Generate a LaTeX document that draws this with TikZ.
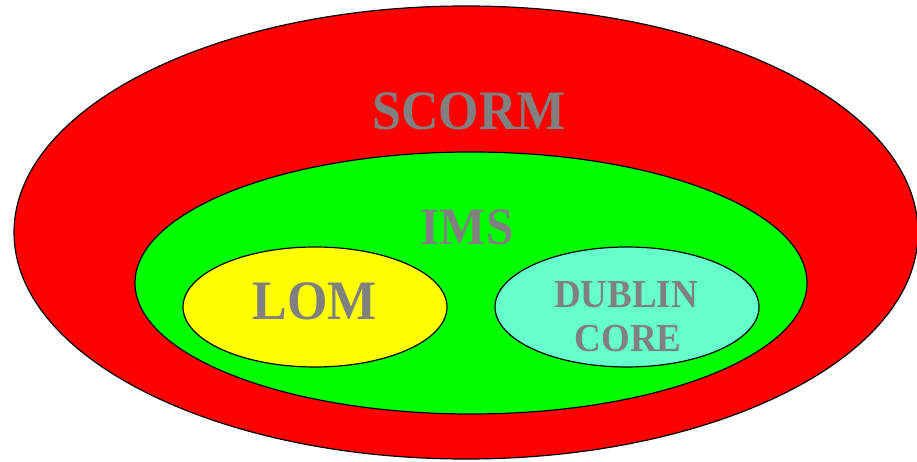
\documentclass[tikz,border=0pt]{standalone}
\usepackage{fontspec}
\setmainfont{Liberation Serif}
\usetikzlibrary{shapes.geometric}
\definecolor{scormred}{RGB}{255,0,0}
\definecolor{imsgreen}{RGB}{0,255,0}
\definecolor{lomyellow}{RGB}{255,255,0}
\definecolor{dcaqua}{RGB}{102,255,204}
\definecolor{labelgray}{RGB}{128,128,128}
\newcommand{\tallword}[1]{\scalebox{1}[1.07]{#1}}
\tikzset{
  setell/.style={ellipse, draw=black, line width=1.2pt, inner sep=0pt},
  setlabel/.style={text=labelgray, font=\bfseries, inner sep=0pt, anchor=base},
}
\begin{document}
\begin{tikzpicture}[x=1pt,y=1pt]
\useasboundingbox (0,0) rectangle (917,462);
\node[setell, fill=scormred, minimum width=904pt, minimum height=453pt] (scorm) at (466,229.5) {};
\node[setell, fill=imsgreen, minimum width=672pt, minimum height=262pt] (ims) at (471,179) {};
\node[setell, fill=lomyellow, minimum width=264pt, minimum height=120pt] (lom) at (315,155) {};
\node[setell, fill=dcaqua, minimum width=264pt, minimum height=120pt] (dc) at (627,155) {};
\node[setlabel, font=\bfseries\fontsize{52}{52}\selectfont] (scormlbl) at (469,332) {\tallword{SCORM}};
\node[setlabel, font=\bfseries\fontsize{49}{49}\selectfont] (imslbl) at (467,217) {\tallword{IMS}};
\node[setlabel, font=\bfseries\fontsize{52}{52}\selectfont] (lomlbl) at (314.5,142) {\tallword{LOM}};
\node[setlabel, font=\bfseries\fontsize{37}{37}\selectfont] (dclbl1) at (626,154) {\tallword{DUBLIN}};
\node[setlabel, font=\bfseries\fontsize{37}{37}\selectfont] (dclbl2) at (628,110) {\tallword{CORE}};
\end{tikzpicture}
\end{document}
